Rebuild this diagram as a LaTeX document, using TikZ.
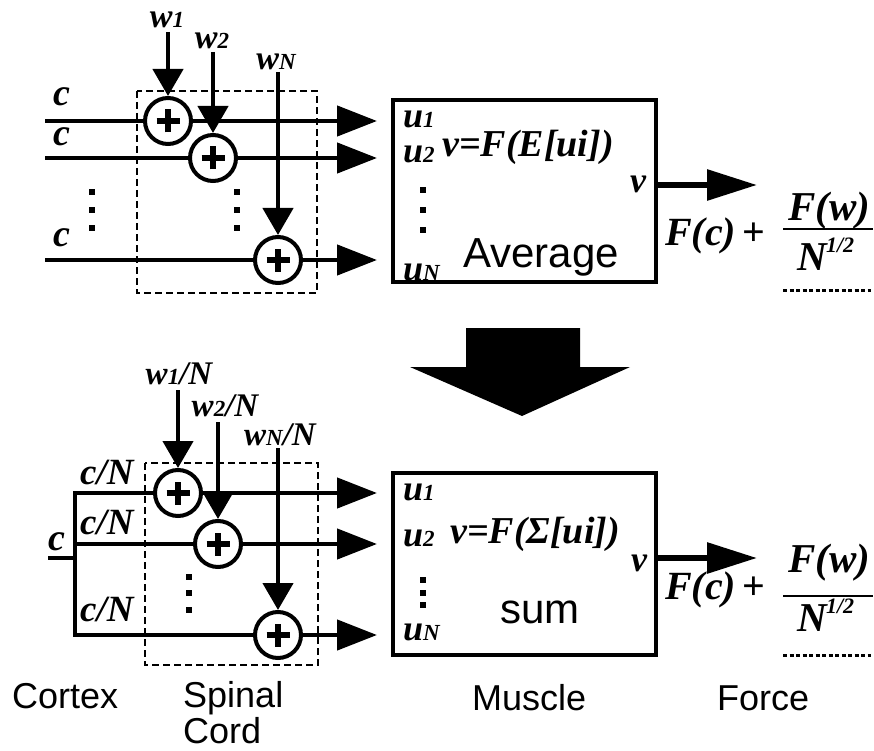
\documentclass[tikz,border=0pt]{standalone}
\usepackage{fontspec}
\setmainfont{Liberation Serif}
\newfontfamily\sansf{Liberation Sans}
\usetikzlibrary{arrows.meta}
\newcommand{\fs}[1]{\fontsize{#1}{#1}\selectfont}
\newcommand{\sdig}[1]{{\fs{23}#1}}
\newcommand{\halfsup}{\kern-1.5pt\raisebox{0.42em}{\fs{22}1/2}}
\begin{document}
\begin{tikzpicture}[x=1pt,y=-1pt,
  mlab/.style={font={\bfseries\itshape}, inner sep=0pt},
  slab/.style={font={\sansf}, inner sep=0pt},
  rowline/.style={line width=4.5pt},
  rowarrow/.style={line width=4.5pt, -{Triangle[length=40pt,width=30pt]}},
  warrow/.style={line width=4.5pt, -{Triangle[length=27pt,width=30pt]}},
  outarrow/.style={line width=6pt, -{Triangle[length=50pt,width=30pt]}},
  sumnode/.style={circle, draw, line width=4pt, minimum size=46pt, inner sep=0pt, fill=white,
    path picture={\draw[line width=5.5pt]
      ([xshift=-11.5pt]path picture bounding box.center) -- ([xshift=11.5pt]path picture bounding box.center)
      ([yshift=-11.5pt]path picture bounding box.center) -- ([yshift=11.5pt]path picture bounding box.center);}},
  mbox/.style={draw, line width=4pt, minimum width=263pt, minimum height=182pt, inner sep=0pt},
  dashbox/.style={draw, line width=2pt, dash pattern=on 7pt off 4pt},
  dotsq/.style={fill, minimum size=5.5pt, inner sep=0pt},
  fracbar/.style={line width=2.5pt},
  dotline/.style={line width=3pt, dash pattern=on 4pt off 2.5pt}
]
\useasboundingbox (0,0) rectangle (874,751);
\fill[white] (0,0) rectangle (874,751);

% ================= TOP =================
\draw[dashbox] (137,91) rectangle (317,293);
\node[mbox] (m1) at (524.5,191) {};

\node[sumnode] (s1) at (168,121) {};
\node[sumnode] (s2) at (213,158) {};
\node[sumnode] (s3) at (278,260) {};

\coordinate (in1) at (45,121);
\coordinate (in2) at (45,158);
\coordinate (in3) at (45,260);
\coordinate (out1) at (377,121);
\coordinate (out2) at (377,158);
\coordinate (out3) at (377,260);
\draw[rowline] (in1) -- (s1);
\draw[rowline] (in2) -- (s2);
\draw[rowline] (in3) -- (s3);

\coordinate (wt1) at (168,32);
\coordinate (wt2) at (213,52);
\coordinate (wt3) at (278,72);
\draw[warrow] (wt3) -- (s3);
\draw[rowarrow] (s1) -- (out1);
\draw[rowarrow] (s2) -- (out2);
\draw[rowarrow] (s3) -- (out3);
\draw[warrow] (wt1) -- (s1);
\draw[warrow] (wt2) -- (s2);

\node[mlab, font={\fs{34}\bfseries\itshape}, anchor=base] (lw1) at (167,28) {w\sdig{1}};
\node[mlab, font={\fs{34}\bfseries\itshape}, anchor=base] (lw2) at (212,49) {w\sdig{2}};
\node[mlab, font={\fs{34}\bfseries\itshape}, anchor=base] (lw3) at (276,70) {w\sdig{N}};

\node[mlab, font={\fs{38}\bfseries\itshape}, anchor=base west] (lc1) at (53,106) {c};
\node[mlab, font={\fs{38}\bfseries\itshape}, anchor=base west] (lc2) at (53,146) {c};
\node[mlab, font={\fs{38}\bfseries\itshape}, anchor=base west] (lc3) at (53,246) {c};

\node[dotsq] (d1a) at (92,192) {};
\node[dotsq] (d1b) at (92,210) {};
\node[dotsq] (d1c) at (92,228) {};
\node[dotsq] (d2a) at (237,192) {};
\node[dotsq] (d2b) at (237,210) {};
\node[dotsq] (d2c) at (237,228) {};

\node[mlab, font={\fs{36}\bfseries\itshape}, anchor=base west] (u1) at (403,128) {u\sdig{1}};
\node[mlab, font={\fs{36}\bfseries\itshape}, anchor=base west] (u2) at (403,163) {u\sdig{2}};
\node[mlab, font={\fs{36}\bfseries\itshape}, anchor=base west] (uN) at (403,280) {u\sdig{N}};
\node[dotsq] (d3a) at (423,190) {};
\node[dotsq] (d3b) at (423,210) {};
\node[dotsq] (d3c) at (423,230) {};
\node[mlab, font={\fs{38}\bfseries\itshape}, anchor=base west] (eq1) at (442,157) {v=F(E[ui])};
\node[slab, font={\fs{42}\sansf}, anchor=base west] (avg) at (463,267) {Average};

\node[mlab, font={\fs{36}\bfseries\itshape}, anchor=base] (v1) at (638,193) {v};
\coordinate (vs1) at (656,185);
\coordinate (ve1) at (757,185);
\draw[outarrow] (vs1) -- (ve1);

\node[mlab, font={\fs{40}\bfseries\itshape}, anchor=base west] (fc1) at (665,245) {F(c)\,{\normalfont\bfseries +}};
\node[mlab, font={\fs{41}\bfseries\itshape}, anchor=base] (fw1) at (829,220) {F(w)};
\node[mlab, font={\fs{41}\bfseries\itshape}, anchor=base] (fn1) at (826,270) {N\halfsup};
\coordinate (b1l) at (783,229);
\coordinate (b1r) at (873,229);
\draw[fracbar] (b1l) -- (b1r);
\coordinate (dl1l) at (783,290);
\coordinate (dl1r) at (871,290);
\draw[dotline] (dl1l) -- (dl1r);

% ================= BIG ARROW =================
\fill (466,328) -- (580,328) -- (580,367) -- (630,367) -- (522,416) -- (410,367) -- (466,367) -- cycle;

% ================= BOTTOM =================
\draw[dashbox] (145,463) rectangle (318,665);
\node[mbox] (m2) at (524.5,564) {};

\node[sumnode] (s4) at (178,493) {};
\node[sumnode] (s5) at (218,544) {};
\node[sumnode] (s6) at (278,635) {};

\coordinate (bus1) at (75,493);
\coordinate (bus2) at (75,544);
\coordinate (bus3) at (75,635);
\coordinate (cj) at (75,558);
\coordinate (cin) at (48,558);
\draw[rowline, line join=miter] (s4) -- (bus1) -- (bus3) -- (s6);
\draw[rowline] (bus2) -- (s5);
\draw[rowline] (cin) -- (cj);

\coordinate (out4) at (377,493);
\coordinate (out5) at (377,544);
\coordinate (out6) at (377,635);
\coordinate (wt4) at (178,390);
\coordinate (wt5) at (218,422);
\coordinate (wt6) at (278,448);
\draw[warrow] (wt6) -- (s6);
\draw[rowarrow] (s4) -- (out4);
\draw[rowarrow] (s5) -- (out5);
\draw[rowarrow] (s6) -- (out6);
\draw[warrow] (wt4) -- (s4);
\draw[warrow] (wt5) -- (s5);

\node[mlab, font={\fs{33}\bfseries\itshape}, anchor=base] (lw4) at (179,384) {w\sdig{1}/N};
\node[mlab, font={\fs{33}\bfseries\itshape}, anchor=base] (lw5) at (225,416) {w\sdig{2}/N};
\node[mlab, font={\fs{33}\bfseries\itshape}, anchor=base] (lw6) at (280,445) {w\sdig{N}/N};

\node[mlab, font={\fs{38}\bfseries\itshape}, anchor=base west] (lc0) at (48,550) {c};
\node[mlab, font={\fs{37}\bfseries\itshape}, anchor=base west] (lc4) at (80,484) {c/N};
\node[mlab, font={\fs{37}\bfseries\itshape}, anchor=base west] (lc5) at (80,534) {c/N};
\node[mlab, font={\fs{37}\bfseries\itshape}, anchor=base west] (lc6) at (80,621) {c/N};

\node[dotsq] (d4a) at (189,577) {};
\node[dotsq] (d4b) at (189,593) {};
\node[dotsq] (d4c) at (189,610) {};

\node[mlab, font={\fs{36}\bfseries\itshape}, anchor=base west] (u4) at (403,500) {u\sdig{1}};
\node[mlab, font={\fs{36}\bfseries\itshape}, anchor=base west] (u5) at (403,546) {u\sdig{2}};
\node[mlab, font={\fs{36}\bfseries\itshape}, anchor=base west] (u6) at (403,640) {u\sdig{N}};
\node[dotsq] (d5a) at (423,580) {};
\node[dotsq] (d5b) at (423,593) {};
\node[dotsq] (d5c) at (423,605) {};
\node[mlab, font={\fs{38}\bfseries\itshape}, anchor=base west] (eq2) at (450,543) {v=F(Σ[ui])};
\node[slab, font={\fs{42}\sansf}, anchor=base west] (sum) at (500,623) {sum};

\node[mlab, font={\fs{36}\bfseries\itshape}, anchor=base] (v2) at (639,571) {v};
\coordinate (vs2) at (656,558);
\coordinate (ve2) at (757,558);
\draw[outarrow] (vs2) -- (ve2);

\node[mlab, font={\fs{40}\bfseries\itshape}, anchor=base west] (fc2) at (665,599) {F(c)\,{\normalfont\bfseries +}};
\node[mlab, font={\fs{41}\bfseries\itshape}, anchor=base] (fw2) at (829,572) {F(w)};
\node[mlab, font={\fs{41}\bfseries\itshape}, anchor=base] (fn2) at (826,631) {N\halfsup};
\coordinate (b2l) at (783,596);
\coordinate (b2r) at (873,596);
\draw[fracbar] (b2l) -- (b2r);
\coordinate (dl2l) at (783,655);
\coordinate (dl2r) at (871,655);
\draw[dotline] (dl2l) -- (dl2r);

% ================= LABELS =================
\node[slab, font={\fs{36}\sansf}, anchor=base west] (lcortex) at (12,708) {Cortex};
\node[slab, font={\fs{36}\sansf}, anchor=base west] (lspinal) at (183,707) {Spinal};
\node[slab, font={\fs{36}\sansf}, anchor=base west] (lcord) at (183,743) {Cord};
\node[slab, font={\fs{36}\sansf}, anchor=base west] (lmuscle) at (472,710) {Muscle};
\node[slab, font={\fs{36}\sansf}, anchor=base west] (lforce) at (717,710) {Force};
\end{tikzpicture}
\end{document}
